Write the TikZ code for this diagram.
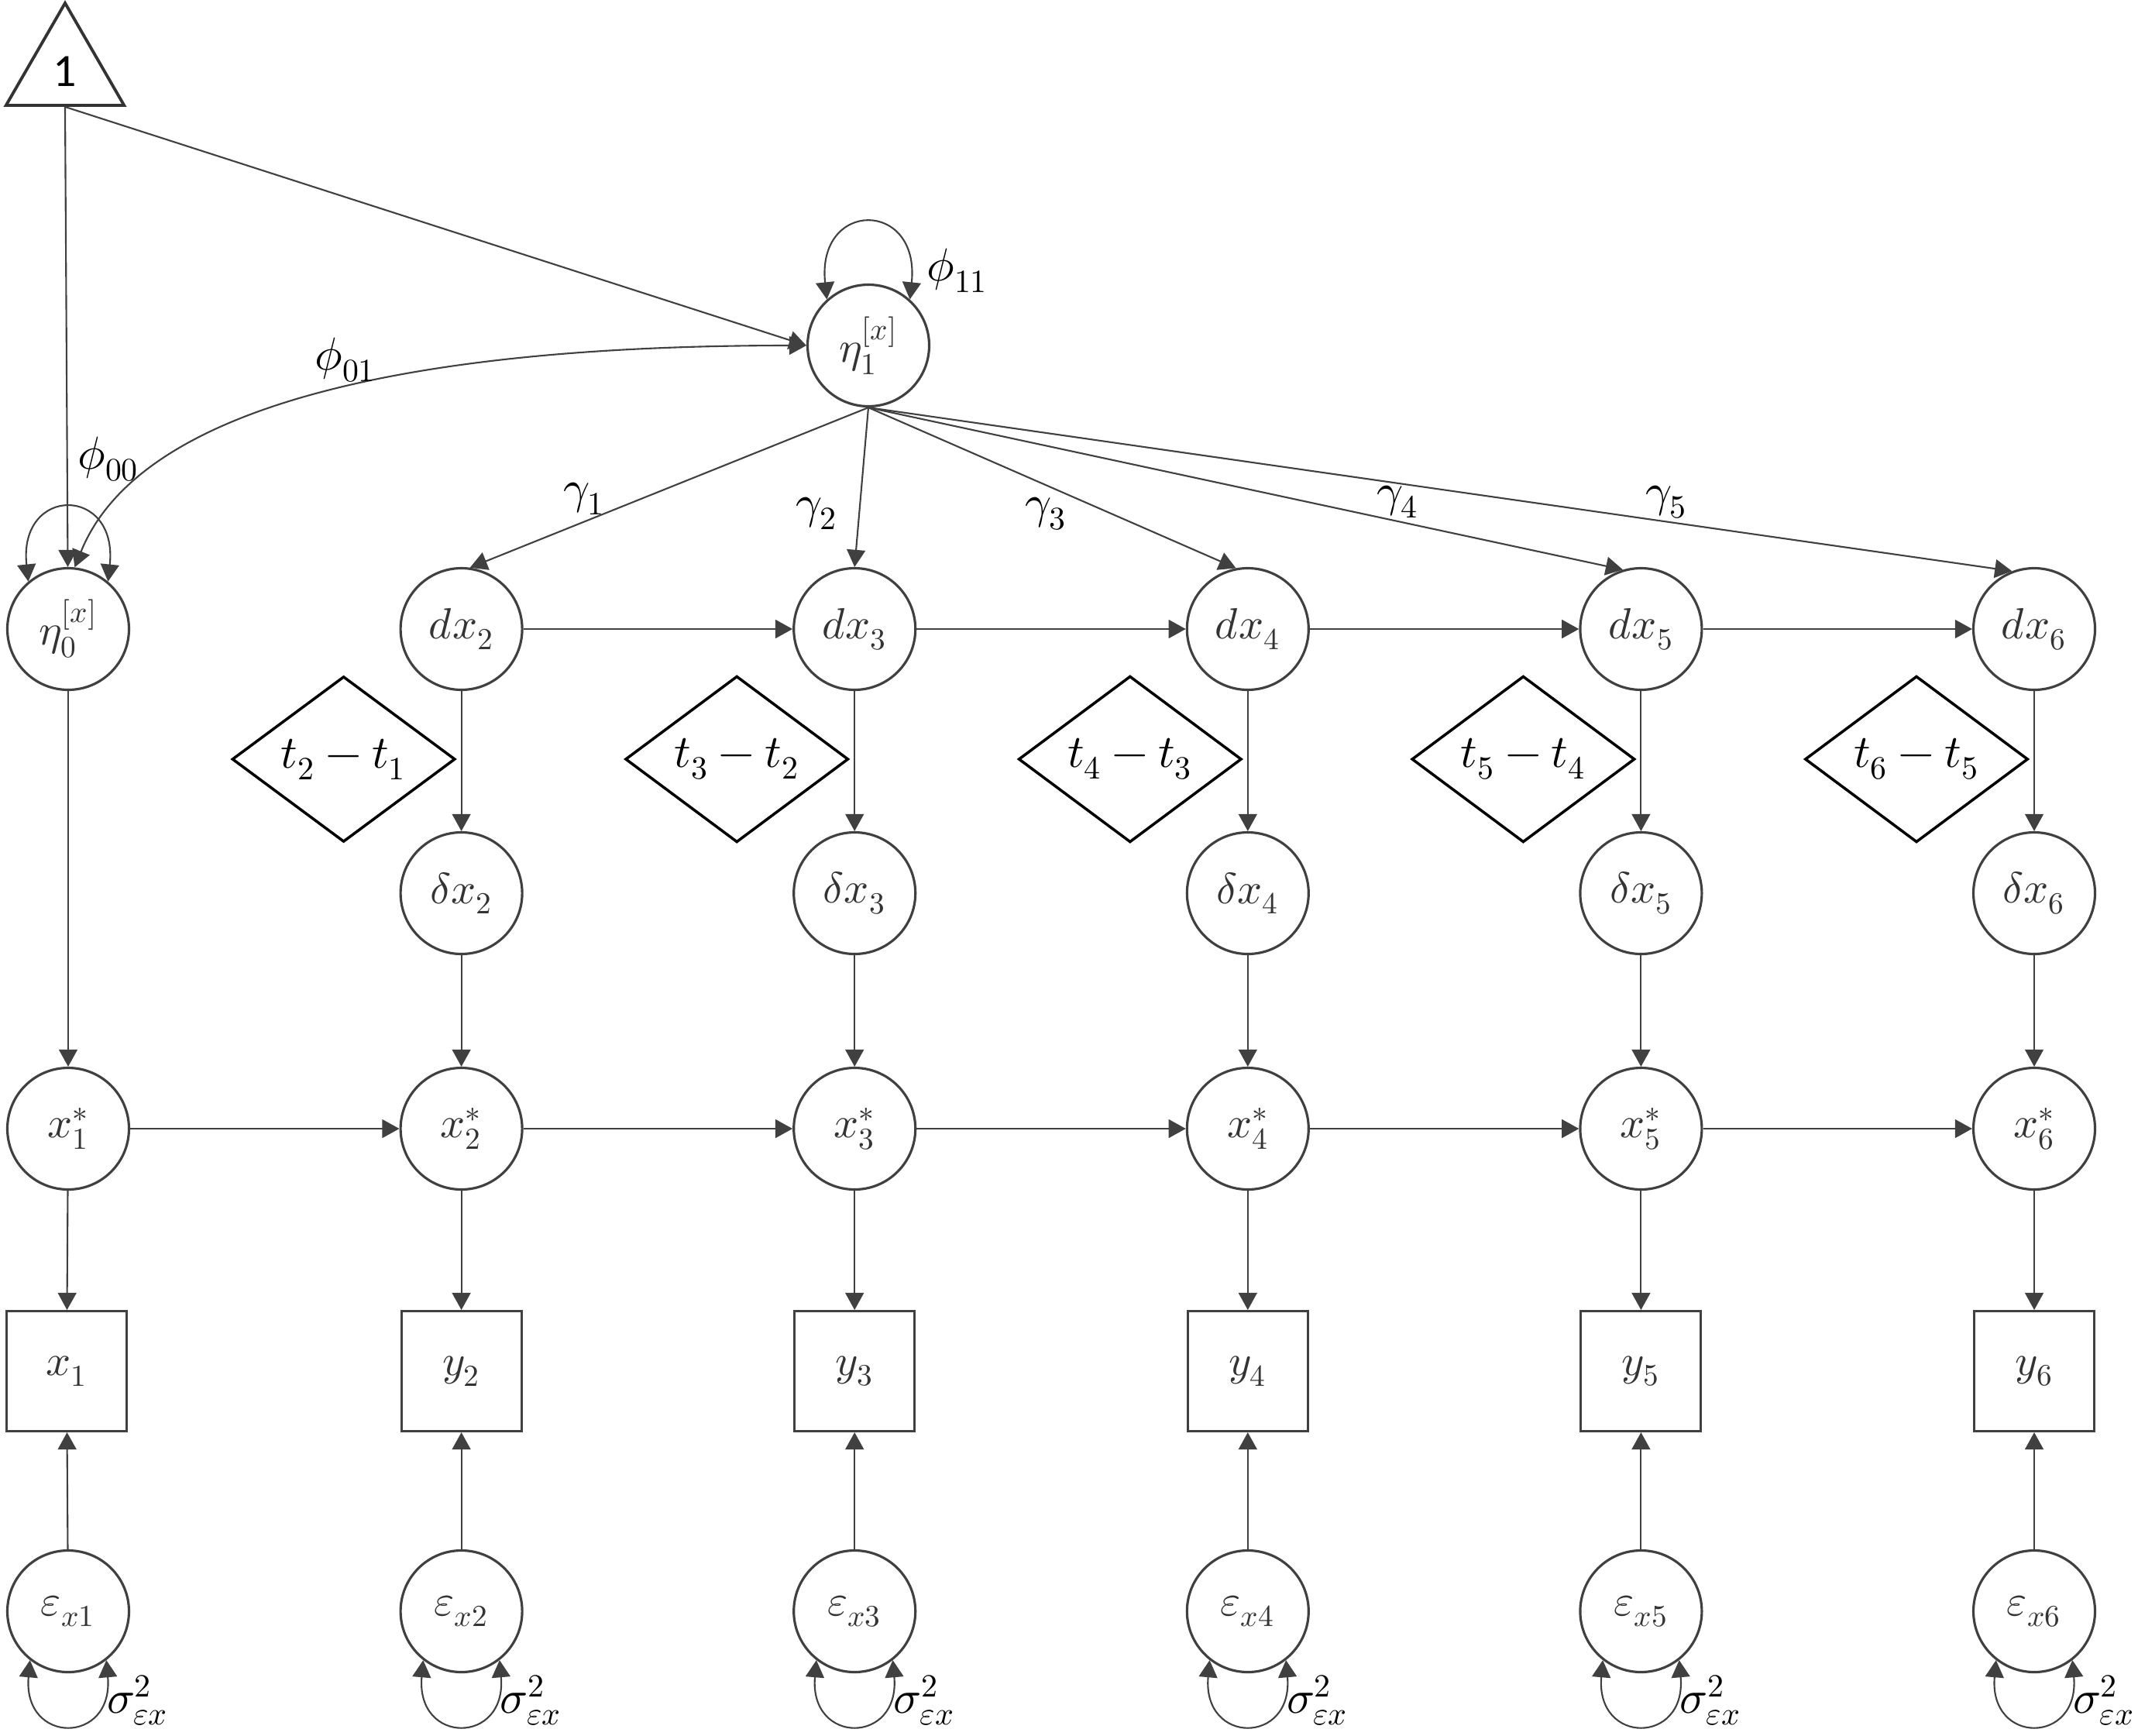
\documentclass[tikz,border=0pt]{standalone}
\usepackage{fontspec}
\usepackage{unicode-math}
\setmathfont{Latin Modern Math}
\newfontfamily\onefont{Carlito}
\usetikzlibrary{arrows.meta,shapes.geometric}

\begin{document}
\begin{tikzpicture}[
  font=\fontsize{17}{20}\selectfont,
  lat/.style={circle,draw=black!75,line width=0.9pt,text=black!80,minimum size=1.57cm,inner sep=0pt,font=\fontsize{16}{19}\selectfont},
  obs/.style={rectangle,draw=black!75,line width=0.85pt,text=black!80,minimum size=1.55cm,inner sep=0pt,font=\fontsize{16}{19}\selectfont},
  lagbox/.style={diamond,draw=black,line width=1pt,minimum width=2.88cm,minimum height=1.72cm,inner sep=0pt},
  arr/.style={-{Triangle[length=6.3pt,width=6.8pt]},draw=black!75,line width=0.6pt},
  cov/.style={{Triangle[length=6.3pt,width=6.8pt]}-{Triangle[length=6.3pt,width=6.8pt]},draw=black!75,line width=0.6pt}]
  \useasboundingbox (0,0) rectangle (27.6,-22.4);

  % constant and growth factors
  \node[regular polygon,regular polygon sides=3,draw=black!80,line width=1.1pt,minimum size=1.76cm,inner sep=0pt] (one) at (0.84,-0.92) {\onefont\fontsize{17}{20}\selectfont 1};
  \node[lat] (eta0) at (0.88,-8.12) {$\eta_0^{[x]}$};
  \node[lat] (eta1) at (11.21,-4.46) {$\eta_1^{[x]}$};

  % occasions
  \foreach \i in {1,...,6} {
    \pgfmathsetmacro{\xx}{0.88+5.076*(\i-1)}
    \node[lat] (xs\i) at (\xx,-14.57) {$x_{\i}^{*}$};
    \node[lat] (e\i) at (\xx,-20.8) {$\varepsilon_{x\i}$};
    \node (s\i) at (\xx+0.9,-21.95) {$\sigma^2_{\varepsilon x}$};
  }
  \node[obs] (y1) at (0.86,-17.7) {$x_1$};
  \foreach \i in {2,...,6} {
    \pgfmathsetmacro{\xx}{0.88+5.076*(\i-1)}
    \pgfmathtruncatemacro{\j}{\i-1}
    \node[obs] (y\i) at (\xx,-17.7) {$y_{\i}$};
    \node[lat] (dx\i) at (\xx,-8.12) {$dx_{\i}$};
    \node[lat] (dd\i) at (\xx,-11.53) {$\delta x_{\i}$};
    \node[lagbox] (t\i) at (\xx-1.52,-9.8) {$t_{\i}-t_{\j}$};
  }

  % paths
  \draw[arr] (one.south) -- (eta0);
  \draw[arr] (one.south) -- (eta1.west);
  \draw[cov] (eta1.west) .. controls +(180:3.4) and +(68:2.75) .. (eta0.84);
  \draw[cov] (eta0.130) .. controls +(96:1.25) and +(84:1.25) .. (eta0.50);
  \draw[cov] (eta1.132) .. controls +(96:1.3) and +(84:1.3) .. (eta1.48);
  \draw[arr] (eta0) -- (xs1);
  \foreach \i/\a in {2/82,3/90,4/101,5/107,6/111} {
    \draw[arr] (eta1.south) -- (dx\i.\a);
    \draw[arr] (dx\i) -- (dd\i);
    \draw[arr] (dd\i) -- (xs\i);
  }
  \foreach \i [evaluate=\i as \j using int(\i+1)] in {2,...,5}
    \draw[arr] (dx\i) -- (dx\j);
  \foreach \i [evaluate=\i as \j using int(\i+1)] in {1,...,5}
    \draw[arr] (xs\i) -- (xs\j);
  \foreach \i in {1,...,6} {
    \draw[arr] (xs\i) -- (y\i);
    \draw[arr] (e\i) -- (y\i);
    \draw[cov] (e\i.-128) .. controls +(-95:1.1) and +(-85:1.1) .. (e\i.-52);
  }

  % labels
  \node (p00) at (1.40,-5.93) {$\phi_{00}$};
  \node (p01) at (4.46,-4.65) {$\phi_{01}$};
  \node (p11) at (12.36,-3.49) {$\phi_{11}$};
  \node (g1) at (7.54,-6.44) {$\gamma_1$};
  \node (g2) at (10.54,-6.63) {$\gamma_2$};
  \node (g3) at (13.5,-6.63) {$\gamma_3$};
  \node (g4) at (18.04,-6.48) {$\gamma_4$};
  \node (g5) at (21.51,-6.48) {$\gamma_5$};
\end{tikzpicture}
\end{document}
